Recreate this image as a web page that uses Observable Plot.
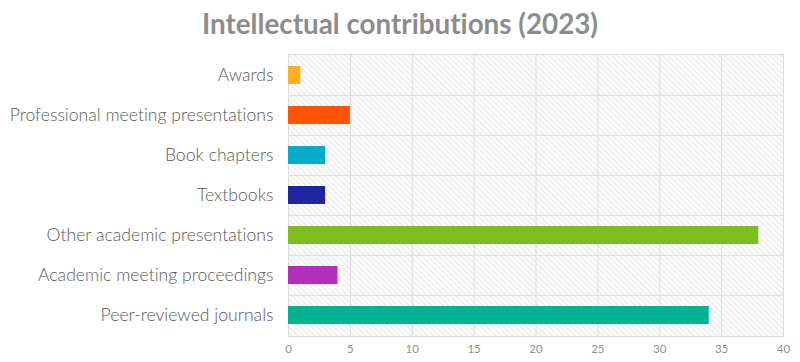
<!DOCTYPE html>
<html>
<head>
<meta charset="utf-8">
<script src="https://cdn.jsdelivr.net/npm/d3@7"></script>
<script src="https://cdn.jsdelivr.net/npm/@observablehq/plot@0.6"></script>
<style>
  html, body { margin: 0; padding: 0; background: #fff; }
  #wrap { width: 800px; height: 362px; overflow: hidden; }
  #title { height: 50px; line-height: 47px; text-align: center; font-family: Lato, "Open Sans", sans-serif; font-weight: 700; font-size: 27.8px; color: #8c8c8c; font-variant-ligatures: none; }
  svg text { font-variant-ligatures: none; }
</style>
</head>
<body>
<div id="wrap">
  <div id="title">Intellectual contributions (2023)</div>
  <div id="chart"></div>
</div>
<script>
const categories = [
  "Awards",
  "Professional meeting presentations",
  "Book chapters",
  "Textbooks",
  "Other academic presentations",
  "Academic meeting proceedings",
  "Peer-reviewed journals"
];
const values = [1, 5, 3, 3, 38, 4, 34];
const colors = ["#fbb022", "#ff5400", "#00acc8", "#1f26a0", "#7cbe1e", "#b42ebe", "#00b294"];
const xTicks = [0, 5, 10, 15, 20, 25, 30, 35, 40];

const data = categories.map((c, i) => ({category: c, value: values[i], color: colors[i]}));

const H = 312, mTop = 4, mBottom = 26;
const step = (H - mTop - mBottom) / categories.length;

const chart = Plot.plot({
  width: 800,
  height: H,
  marginTop: mTop,
  marginBottom: mBottom,
  marginLeft: 288,
  marginRight: 17,
  style: {fontFamily: "Lato, 'Open Sans', sans-serif", background: "#fff"},
  x: {domain: [0, 40], ticks: xTicks, label: null, tickSize: 0, tickPadding: 9},
  y: {domain: categories, label: null, paddingInner: 0.55, paddingOuter: 0.275, tickSize: 0, tickPadding: 15},
  marks: [
    Plot.frame({fill: "url(#hatch)", stroke: "#dcdcdc"}),
    Plot.ruleX(xTicks, {stroke: "#dcdcdc", strokeWidth: 1}),
    Plot.tickY(categories.slice(1), {y: d => d, dy: -step / 2, stroke: "#dcdcdc", strokeWidth: 1}),
    Plot.barX(data, {x: "value", y: "category", fill: "color"}),
    Plot.axisX({ticks: xTicks, tickSize: 0, tickPadding: 8, fontSize: 11.5, fill: "#8f8f8f"}),
    Plot.axisY({tickSize: 0, tickPadding: 15, fontSize: 17.6, fill: "#5a5a5a", fontWeight: 300})
  ]
});

const svgNS = "http://www.w3.org/2000/svg";
const defs = document.createElementNS(svgNS, "defs");
defs.innerHTML = `<pattern id="hatch" patternUnits="userSpaceOnUse" width="4" height="4" patternTransform="rotate(-45)">
  <rect width="4" height="4" fill="#fcfcfc"></rect>
  <line x1="0" y1="0" x2="0" y2="4" stroke="#dcdcdc" stroke-width="1.2"></line>
</pattern>`;
chart.insertBefore(defs, chart.firstChild);
document.getElementById("chart").appendChild(chart);
</script>
</body>
</html>
